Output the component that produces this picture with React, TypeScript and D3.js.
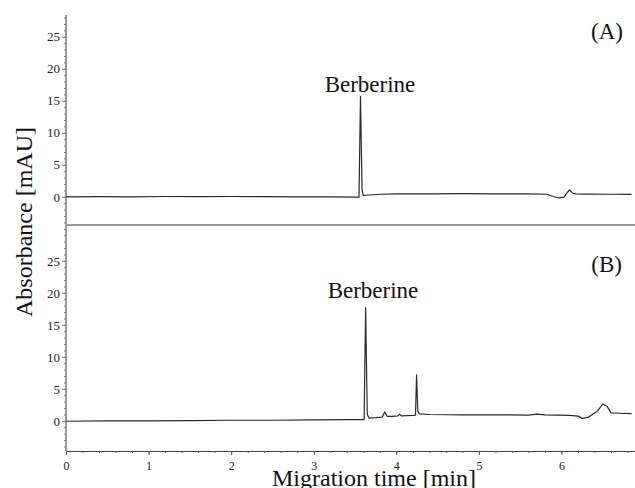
import React, { useEffect, useRef } from 'react';
import * as d3 from 'd3';

// electropherogram (A) standard
const timeA = [0, 0.4, 0.8, 1.2, 1.6, 2.0, 2.4, 2.8, 3.2, 3.5, 3.548, 3.566, 3.585, 3.6, 3.63, 3.8, 4.0, 4.4, 4.8, 5.2, 5.6, 5.82, 5.9, 5.96, 6.03, 6.07, 6.1, 6.13, 6.17, 6.3, 6.6, 6.85];
const absA = [0.0, 0.02, 0.0, 0.05, 0.04, 0.05, 0.03, 0.0, 0.0, -0.05, -0.05, 15.7, 1.0, 0.2, 0.25, 0.4, 0.45, 0.45, 0.5, 0.45, 0.45, 0.4, 0.05, -0.15, -0.05, 0.7, 1.1, 0.6, 0.45, 0.42, 0.4, 0.38];

// electropherogram (B) sample
const timeB = [0, 0.5, 1.0, 1.5, 2.0, 2.5, 3.0, 3.4, 3.61, 3.628, 3.648, 3.67, 3.75, 3.83, 3.86, 3.89, 3.95, 4.02, 4.04, 4.06, 4.2, 4.232, 4.245, 4.26, 4.28, 4.4, 4.8, 5.2, 5.6, 5.7, 5.8, 6.1, 6.2, 6.25, 6.32, 6.44, 6.5, 6.55, 6.6, 6.7, 6.85];
const absB = [-0.05, 0.0, 0.0, 0.05, 0.1, 0.1, 0.15, 0.2, 0.2, 17.7, 1.0, 0.45, 0.5, 0.6, 1.4, 0.7, 0.7, 0.8, 1.05, 0.8, 0.85, 0.9, 7.2, 1.5, 1.1, 1.0, 0.95, 0.95, 0.9, 1.05, 0.95, 0.85, 0.75, 0.4, 0.55, 1.6, 2.65, 2.3, 1.25, 1.2, 1.15];

const yTicks = [0, 5, 10, 15, 20, 25];
const xTicks = [0, 1, 2, 3, 4, 5, 6];
const panelLabels = ['(A)', '(B)'];
const peakName = 'Berberine';

const serif = "'Liberation Serif', 'Times New Roman', 'DejaVu Serif', serif";

export default function App() {
  const ref = useRef<SVGSVGElement>(null);

  useEffect(() => {
    const svg = d3.select(ref.current);
    svg.selectAll('*').remove();

    const x = d3.scaleLinear().domain([0, 6.89]).range([66, 635]);
    const yA = d3.scaleLinear().domain([-4.4, 28.4]).range([225, 15]);
    const yB = d3.scaleLinear().domain([-4.7, 30.6]).range([451, 225]);

    const axisColor = '#7a7a7a';

    // y axes (minor + major ticks)
    const drawY = (y: d3.ScaleLinear<number, number>, lo: number, hi: number) => {
      const minor = svg.append('g').attr('transform', 'translate(66,0)')
        .call(d3.axisLeft(y).tickValues(d3.range(lo, hi + 1, 1)).tickSize(2).tickFormat(() => '').tickSizeOuter(0));
      minor.select('.domain').remove();
      minor.selectAll('line').attr('stroke', axisColor);
      const major = svg.append('g').attr('transform', 'translate(66,0)')
        .call(d3.axisLeft(y).tickValues(yTicks).tickSize(4).tickPadding(2).tickFormat(d3.format('d')).tickSizeOuter(0));
      major.attr('font-family', null);
      major.select('.domain').remove();
      major.selectAll('line').attr('stroke', axisColor);
      major.selectAll('text').style('font-family', serif).style('font-size', '13px').attr('fill', '#222');
    };
    drawY(yA, -4, 28);
    drawY(yB, -4, 30);

    svg.append('line').attr('x1', 66).attr('x2', 66).attr('y1', 15).attr('y2', 451)
      .attr('stroke', axisColor).attr('stroke-width', 1.5);

    // panel separator
    svg.append('line').attr('x1', 66).attr('x2', 635).attr('y1', yA.range()[0]).attr('y2', yA.range()[0])
      .attr('stroke', '#9a9a9a').attr('stroke-width', 2);

    // x axis
    const xMinor = svg.append('g').attr('transform', 'translate(0,451)')
      .call(d3.axisBottom(x).tickValues(d3.range(0, 6.81, 0.2)).tickSize(2).tickFormat(() => '').tickSizeOuter(0));
    xMinor.select('.domain').attr('stroke', '#444').attr('stroke-width', 1.2);
    xMinor.selectAll('line').attr('stroke', '#555');
    const xMajor = svg.append('g').attr('transform', 'translate(0,451)')
      .call(d3.axisBottom(x).tickValues(xTicks).tickSize(4).tickPadding(6).tickFormat(d3.format('d')).tickSizeOuter(0));
    xMajor.attr('font-family', null);
    xMajor.select('.domain').remove();
    xMajor.selectAll('line').attr('stroke', '#555');
    xMajor.selectAll('text').style('font-family', serif).style('font-size', '12px').attr('fill', '#222');

    // traces
    const drawTrace = (t: number[], v: number[], y: d3.ScaleLinear<number, number>) => {
      const line = d3.line<number>().x((d, i) => x(t[i])).y(d => y(d));
      svg.append('path').datum(v).attr('d', line).attr('fill', 'none')
        .attr('stroke', '#2a2a2a').attr('stroke-width', 1.2).attr('stroke-linejoin', 'round');
    };
    drawTrace(timeA, absA, yA);
    drawTrace(timeB, absB, yB);

    // labels
    const txt = (s: string, tx: number, ty: number, size: number, anchor = 'middle') =>
      svg.append('text').attr('x', tx).attr('y', ty).style('font-family', serif)
        .style('font-size', size + 'px').attr('text-anchor', anchor).attr('fill', '#111').text(s);

    txt(peakName, 370, 92, 23);
    txt(peakName, 373, 298, 23);
    txt(panelLabels[0], 623, 39, 23, 'end');
    txt(panelLabels[1], 622, 272, 23, 'end');
    txt('Migration time [min]', 374, 486, 24);
    svg.append('text').attr('transform', 'translate(32,222) rotate(-90)')
      .style('font-family', serif).style('font-size', '24px').attr('text-anchor', 'middle')
      .attr('fill', '#111').text('Absorbance [mAU]');
  }, []);

  return (
    <div style={{ position: 'absolute', left: 0, top: 0 }}>
      <svg ref={ref} width={635} height={488} style={{ display: 'block', background: '#fff' }} />
    </div>
  );
}
